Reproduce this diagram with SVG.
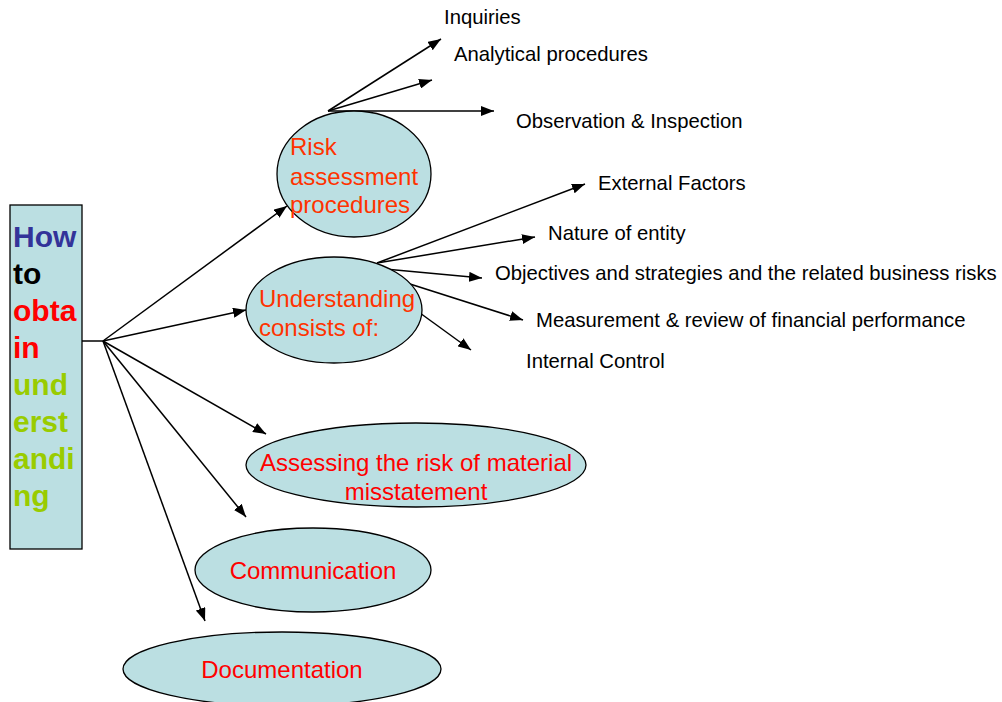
<svg xmlns="http://www.w3.org/2000/svg" width="1002" height="702" viewBox="0 0 1002 702">
<style>
.shape{fill:#BBDFE2;stroke:#000;stroke-width:1.3}
.ct{font-family:"Liberation Sans",Arial,sans-serif;font-size:24px}
.or{fill:#FF3300}
.rd{fill:#FF0000}
.lbl{font-family:"Liberation Sans",Arial,sans-serif;font-size:20.3px;fill:#000}
.bt{font-family:"Liberation Sans",Arial,sans-serif;font-size:30px;font-weight:bold}
.c{stroke:#000;stroke-width:1.5;fill:none}
.a{marker-end:url(#ah)}
</style>
<defs>
<marker id="ah" markerWidth="13" markerHeight="10" refX="13" refY="5" orient="auto" markerUnits="userSpaceOnUse">
<path d="M0,0 L13,5 L0,10 z" fill="#000"/>
</marker>
</defs>
<rect width="1002" height="702" fill="#fff"/>
<g id="connectors">
<line class="c" x1="82" y1="341" x2="103" y2="341"/>
<line class="c a" x1="103" y1="341" x2="287" y2="206"/>
<line class="c a" x1="103" y1="341" x2="246" y2="310"/>
<line class="c a" x1="103" y1="341" x2="266" y2="434"/>
<line class="c a" x1="103" y1="341" x2="246" y2="517"/>
<line class="c a" x1="103" y1="341" x2="205" y2="621"/>
<line class="c a" x1="328" y1="111" x2="441" y2="39"/>
<line class="c a" x1="328" y1="111" x2="432" y2="80"/>
<line class="c a" x1="328" y1="111" x2="494" y2="111"/>
<line class="c a" x1="377" y1="263" x2="585" y2="184"/>
<line class="c a" x1="377" y1="263" x2="535" y2="237"/>
<line class="c a" x1="385" y1="269" x2="482" y2="278"/>
<line class="c a" x1="410" y1="284" x2="523" y2="320"/>
<line class="c a" x1="420" y1="313" x2="471" y2="350"/>
</g>
<g id="how">
<rect class="shape" x="10" y="205" width="72" height="344"/>
<text class="bt" x="13" y="247" fill="#333399">How</text>
<text class="bt" x="13" y="284" fill="#000">to</text>
<text class="bt" x="13" y="321" fill="#FF0000">obta</text>
<text class="bt" x="13" y="358" fill="#FF0000">in</text>
<text class="bt" x="13" y="395" fill="#99CC00">und</text>
<text class="bt" x="13" y="432" fill="#99CC00">erst</text>
<text class="bt" x="13" y="469" fill="#99CC00">andi</text>
<text class="bt" x="13" y="506" fill="#99CC00">ng</text>
</g>
<g id="risk">
<ellipse class="shape" cx="354" cy="174" rx="77" ry="63"/>
<text class="ct or" x="290" y="155">Risk</text>
<text class="ct or" x="290" y="185">assessment</text>
<text class="ct or" x="290" y="213">procedures</text>
</g>
<g id="understanding">
<ellipse class="shape" cx="334" cy="310" rx="88" ry="53"/>
<text class="ct or" x="259" y="307">Understanding</text>
<text class="ct or" x="259" y="336">consists of:</text>
</g>
<g id="assessing">
<ellipse class="shape" cx="416" cy="465" rx="170" ry="42"/>
<text class="ct rd" x="416" y="471" text-anchor="middle">Assessing the risk of material</text>
<text class="ct rd" x="416" y="500" text-anchor="middle">misstatement</text>
</g>
<g id="communication">
<ellipse class="shape" cx="313" cy="570" rx="118" ry="42"/>
<text class="ct rd" x="313" y="579" text-anchor="middle">Communication</text>
</g>
<g id="documentation">
<ellipse class="shape" cx="282" cy="669" rx="159" ry="37"/>
<text class="ct rd" x="282" y="678" text-anchor="middle">Documentation</text>
</g>
<g id="labels">
<text class="lbl" x="444" y="24">Inquiries</text>
<text class="lbl" x="454" y="61">Analytical procedures</text>
<text class="lbl" x="516" y="128">Observation &amp; Inspection</text>
<text class="lbl" x="598" y="190">External Factors</text>
<text class="lbl" x="548" y="240">Nature of entity</text>
<text class="lbl" x="495" y="280">Objectives and strategies and the related business risks</text>
<text class="lbl" x="536" y="327">Measurement &amp; review of financial performance</text>
<text class="lbl" x="526" y="368">Internal Control</text>
</g>
</svg>
